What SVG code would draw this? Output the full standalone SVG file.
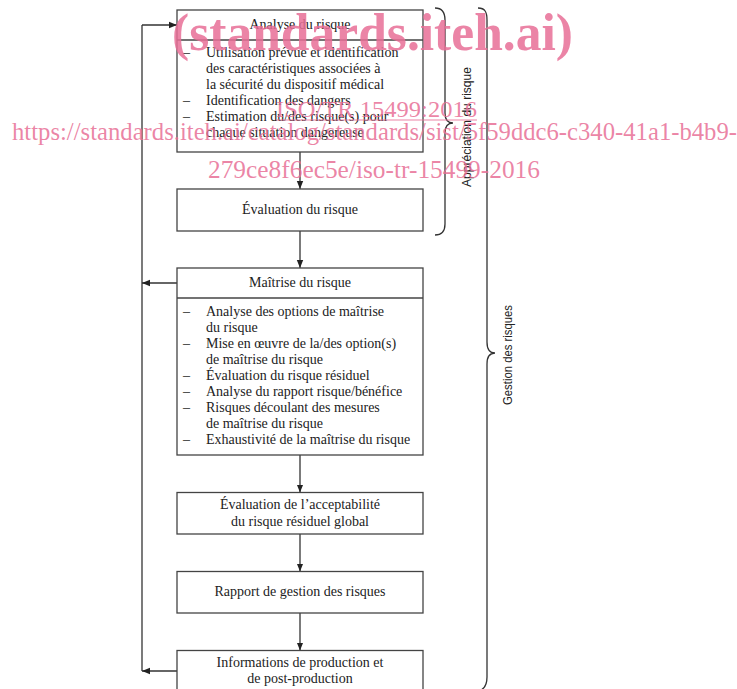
<svg xmlns="http://www.w3.org/2000/svg" width="737" height="689" viewBox="0 0 737 689">
<defs>
<marker id="ah" viewBox="0 0 10 10" refX="10" refY="5" markerWidth="8" markerHeight="8" markerUnits="userSpaceOnUse" orient="auto">
<path d="M0,1 L10,5 L0,9 Z" fill="#222"/>
</marker>
<style>
.box{fill:#fff;stroke:#444;stroke-width:1.3}
.div{stroke:#444;stroke-width:1.3}
.t{font-family:"Liberation Serif","Times New Roman",serif;font-size:14px;fill:#222}
.c{text-anchor:middle}
.ln{stroke:#333;stroke-width:1.3;fill:none}
.br{stroke:#333;stroke-width:1.3;fill:none}
.lab{font-family:"Liberation Sans Narrow","Liberation Sans",Arial,sans-serif;font-size:12px;fill:#222;text-anchor:middle}
.wm{font-family:"Liberation Serif","Times New Roman",serif;fill:#e86f96;fill-opacity:0.85}
</style>
</defs>
<g id="connectors">
<line class="ln" x1="300" y1="152" x2="300" y2="189" marker-end="url(#ah)"/>
<line class="ln" x1="300" y1="231" x2="300" y2="268" marker-end="url(#ah)"/>
<line class="ln" x1="300" y1="455" x2="300" y2="492.5" marker-end="url(#ah)"/>
<line class="ln" x1="300" y1="534" x2="300" y2="571.5" marker-end="url(#ah)"/>
<line class="ln" x1="300" y1="613" x2="300" y2="650.5" marker-end="url(#ah)"/>
<line class="ln" x1="142" y1="25" x2="142" y2="671"/>
<line class="ln" x1="142" y1="25" x2="177" y2="25" marker-end="url(#ah)"/>
<line class="ln" x1="177" y1="283" x2="142" y2="283" marker-end="url(#ah)"/>
<line class="ln" x1="177" y1="671" x2="142" y2="671" marker-end="url(#ah)"/>
</g>
<g id="analyse">
<rect class="box" x="177" y="10" width="246" height="142"/>
<line class="div" x1="177" y1="40" x2="423" y2="40"/>
<text class="t c" x="300" y="29">Analyse du risque</text>
<text class="t" x="183" y="57">–</text><text class="t" x="206" y="57">Utilisation prévue et identification</text>
<text class="t" x="206" y="73">des caractéristiques associées à</text>
<text class="t" x="206" y="89">la sécurité du dispositif médical</text>
<text class="t" x="183" y="105">–</text><text class="t" x="206" y="105">Identification des dangers</text>
<text class="t" x="183" y="121">–</text><text class="t" x="206" y="121">Estimation du/des risque(s) pour</text>
<text class="t" x="206" y="137">chaque situation dangereuse</text>
</g>
<g id="evaluation">
<rect class="box" x="177" y="189" width="246" height="42"/>
<text class="t c" x="300" y="214">Évaluation du risque</text>
</g>
<g id="maitrise">
<rect class="box" x="177" y="268" width="246" height="187"/>
<line class="div" x1="177" y1="298" x2="423" y2="298"/>
<text class="t c" x="300" y="287">Maîtrise du risque</text>
<text class="t" x="183" y="316">–</text><text class="t" x="206" y="316">Analyse des options de maîtrise</text>
<text class="t" x="206" y="332">du risque</text>
<text class="t" x="183" y="348">–</text><text class="t" x="206" y="348">Mise en œuvre de la/des option(s)</text>
<text class="t" x="206" y="364">de maîtrise du risque</text>
<text class="t" x="183" y="380">–</text><text class="t" x="206" y="380">Évaluation du risque résiduel</text>
<text class="t" x="183" y="396">–</text><text class="t" x="206" y="396">Analyse du rapport risque/bénéfice</text>
<text class="t" x="183" y="412">–</text><text class="t" x="206" y="412">Risques découlant des mesures</text>
<text class="t" x="206" y="428">de maîtrise du risque</text>
<text class="t" x="183" y="444">–</text><text class="t" x="206" y="444">Exhaustivité de la maîtrise du risque</text>
</g>
<g id="acceptabilite">
<rect class="box" x="177" y="492.5" width="246" height="41.5"/>
<text class="t c" x="300" y="509">Évaluation de l’acceptabilité</text>
<text class="t c" x="300" y="526">du risque résiduel global</text>
</g>
<g id="rapport">
<rect class="box" x="177" y="571.5" width="246" height="41.5"/>
<text class="t c" x="300" y="596">Rapport de gestion des risques</text>
</g>
<g id="production">
<rect class="box" x="177" y="650.5" width="246" height="50"/>
<text class="t c" x="300" y="667">Informations de production et</text>
<text class="t c" x="300" y="683">de post-production</text>
</g>
<g id="braces">
<path class="br" d="M435,8 C442,8 445,12 445,20 L445,113 C445,120 448,123 453,123 C448,123 445,126 445,133 L445,224 C445,231 442,235 435,235"/>
<text class="lab" transform="translate(471,127) rotate(-90)" textLength="120" lengthAdjust="spacingAndGlyphs">Appréciation du risque</text>
<path class="br" d="M478,8 C485,8 487,12 487,20 L487,342 C487,349 490,353 495,353 C490,353 487,357 487,364 L487,677 C487,684 485,688 481,690"/>
<text class="lab" transform="translate(512,355) rotate(-90)" textLength="100" lengthAdjust="spacingAndGlyphs">Gestion des risques</text>
</g>
<g id="watermark">
<text class="wm" x="172" y="50" font-size="52" font-weight="bold" textLength="401" lengthAdjust="spacingAndGlyphs">(standards.iteh.ai)</text>
<text class="wm" x="276" y="117" font-size="24" textLength="201" lengthAdjust="spacingAndGlyphs">ISO/TR 15499:2016</text>
<line x1="276" y1="120" x2="477" y2="120" stroke="#e86f96" stroke-opacity="0.85" stroke-width="1.2"/>
<text class="wm" x="12" y="140" font-size="25" textLength="725" lengthAdjust="spacingAndGlyphs">https://standards.iteh.ai/catalog/standards/sist/5f59ddc6-c340-41a1-b4b9-</text>
<text class="wm" x="208" y="178" font-size="25" textLength="332" lengthAdjust="spacingAndGlyphs">279ce8f6ec5e/iso-tr-15499-2016</text>
</g>
</svg>
